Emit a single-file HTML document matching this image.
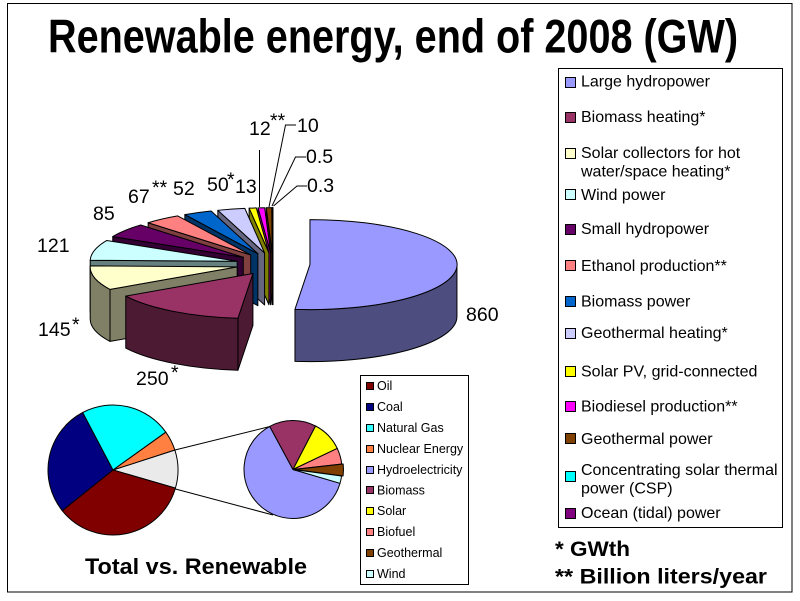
<!DOCTYPE html>
<html><head><meta charset="utf-8">
<style>
html,body{margin:0;padding:0;background:#fff;}
svg{display:block;}
text{font-family:"Liberation Sans",Arial,sans-serif;fill:#000;}
</style></head>
<body>
<svg id="s" width="800" height="601" viewBox="0 0 800 601" xmlns="http://www.w3.org/2000/svg">
<rect x="0" y="0" width="800" height="601" fill="#fff"/>
<rect x="7.5" y="3.5" width="784.5" height="588.5" fill="none" stroke="#000" stroke-width="1"/>

<text x="48" y="52.5" font-size="47.5" font-weight="bold" textLength="690" lengthAdjust="spacingAndGlyphs">Renewable energy, end of 2008 (GW)</text>

<g id="pie3d"></g>

<!-- leader lines -->
<g stroke="#000" stroke-width="1" fill="none">
<polyline points="259.5,150 259.5,207"/>
<polyline points="296,125 285.5,125 269,207"/>
<polyline points="306,157 295.5,157 272,206"/>
<polyline points="307,186 297,186 273.5,206"/>
</g>

<!-- pie labels -->
<g font-size="19.5">
<text x="466" y="321">860</text>
<text x="136" y="385">250</text><text x="171" y="379">*</text>
<text x="38" y="336">145</text><text x="72" y="331">*</text>
<text x="37" y="252">121</text>
<text x="93" y="220">85</text>
<text x="128" y="203">67</text><text x="152" y="194">**</text>
<text x="173" y="195">52</text>
<text x="207" y="191">50</text><text x="227" y="186">*</text>
<text x="235" y="193">13</text>
<text x="249" y="135">12</text><text x="270" y="127">**</text>
<text x="297" y="132">10</text>
<text x="306" y="163">0.5</text>
<text x="307" y="192">0.3</text>
</g>

<!-- main legend -->
<rect x="558.5" y="68.5" width="224" height="459" fill="#fff" stroke="#000" stroke-width="1"/>
<g stroke="#000" stroke-width="1">
<rect x="565.5" y="77.5" width="10" height="10" fill="#9999FF"/>
<rect x="565.5" y="112.5" width="10" height="10" fill="#993366"/>
<rect x="565.5" y="148.5" width="10" height="10" fill="#FFFFCC"/>
<rect x="565.5" y="189.5" width="10" height="10" fill="#CCFFFF"/>
<rect x="565.5" y="224.5" width="10" height="10" fill="#660066"/>
<rect x="565.5" y="260.5" width="10" height="10" fill="#FF8080"/>
<rect x="565.5" y="296.5" width="10" height="10" fill="#0066CC"/>
<rect x="565.5" y="328.5" width="10" height="10" fill="#CCCCFF"/>
<rect x="565.5" y="366.5" width="10" height="10" fill="#FFFF00"/>
<rect x="565.5" y="401.5" width="10" height="10" fill="#FF00FF"/>
<rect x="565.5" y="433.5" width="10" height="10" fill="#804000"/>
<rect x="565.5" y="471.5" width="10" height="10" fill="#00FFFF"/>
<rect x="565.5" y="508.5" width="10" height="10" fill="#800080"/>
</g>
<g font-size="16">
<text x="581" y="86.3">Large hydropower</text>
<text x="581" y="122">Biomass heating*</text>
<text x="581" y="157.8">Solar collectors for hot</text>
<text x="581" y="176.3">water/space heating*</text>
<text x="581" y="199.8">Wind power</text>
<text x="581" y="234">Small hydropower</text>
<text x="581" y="271">Ethanol production**</text>
<text x="581" y="306.5">Biomass power</text>
<text x="581" y="338">Geothermal heating*</text>
<text x="581" y="376.5">Solar PV, grid-connected</text>
<text x="581" y="411.5">Biodiesel production**</text>
<text x="581" y="444">Geothermal power</text>
<text x="581" y="475">Concentrating solar thermal</text>
<text x="581" y="493.5">power (CSP)</text>
<text x="581" y="518">Ocean (tidal) power</text>
</g>

<!-- footnotes -->
<text x="555" y="556" font-size="21" font-weight="bold" textLength="75" lengthAdjust="spacingAndGlyphs">* GWth</text>
<text x="555" y="583.3" font-size="21" font-weight="bold" textLength="212" lengthAdjust="spacingAndGlyphs">** Billion liters/year</text>

<!-- small pies -->
<g id="pie2d"></g>
<g stroke="#000" stroke-width="1" fill="none">
<line x1="175" y1="450" x2="270" y2="426.5"/>
<line x1="175.5" y1="489" x2="273" y2="515"/>
</g>

<text x="85" y="574" font-size="22.5" font-weight="bold" textLength="222" lengthAdjust="spacingAndGlyphs">Total vs. Renewable</text>

<!-- small legend -->
<rect x="360.5" y="375.5" width="108" height="209" fill="#fff" stroke="#000" stroke-width="1"/>
<g stroke="#000" stroke-width="1">
<rect x="366.5" y="382.5" width="7" height="7" fill="#800000"/>
<rect x="366.5" y="403.5" width="7" height="7" fill="#000080"/>
<rect x="366.5" y="424.5" width="7" height="7" fill="#33FFFF"/>
<rect x="366.5" y="445.5" width="7" height="7" fill="#FF8040"/>
<rect x="366.5" y="466.5" width="7" height="7" fill="#9999FF"/>
<rect x="366.5" y="486.5" width="7" height="7" fill="#993366"/>
<rect x="366.5" y="507.5" width="7" height="7" fill="#FFFF00"/>
<rect x="366.5" y="528.5" width="7" height="7" fill="#FF8080"/>
<rect x="366.5" y="549.5" width="7" height="7" fill="#804000"/>
<rect x="366.5" y="570.5" width="7" height="7" fill="#CCFFFF"/>
</g>
<g font-size="12.5">
<text x="377" y="390">Oil</text>
<text x="377" y="411">Coal</text>
<text x="377" y="432">Natural Gas</text>
<text x="377" y="453">Nuclear Energy</text>
<text x="377" y="474">Hydroelectricity</text>
<text x="377" y="494.5">Biomass</text>
<text x="377" y="515">Solar</text>
<text x="377" y="536">Biofuel</text>
<text x="377" y="557">Geothermal</text>
<text x="377" y="578">Wind</text>
</g>
</svg>
<script>
(function(){
const NS="http://www.w3.org/2000/svg";
function el(tag,attrs,parent){const e=document.createElementNS(NS,tag);for(const k in attrs)e.setAttribute(k,attrs[k]);parent.appendChild(e);return e;}
function dark(hex){const n=parseInt(hex.slice(1),16);const r=(n>>16)&255,g=(n>>8)&255,b=n&255;return 'rgb('+Math.round(r*0.5)+','+Math.round(g*0.5)+','+Math.round(b*0.5)+')';}
function f(p){return p[0].toFixed(2)+','+p[1].toFixed(2);}
const R=Math.PI/180;
// 3D pie
const g=document.getElementById('pie3d');
const cx0=273,cy0=264,rx=147,ry=45,D=37,H=52;
const data=[[860,'#9999FF'],[250,'#993366'],[145,'#FFFFCC'],[121,'#CCFFFF'],[85,'#660066'],[67,'#FF8080'],[52,'#0066CC'],[50,'#CCCCFF'],[13,'#FFFF00'],[12,'#FF00FF'],[10,'#804000'],[0.5,'#00FFFF'],[0.3,'#800080']];
const tot=data.reduce((s,x)=>s+x[0],0);
let a=-90;const slices=[];
for(const [v,c] of data){const span=v/tot*360;const b=a+span;const m=(a+b)/2;
 slices.push({a:a,b:b,m:m,cx:cx0+D*Math.cos(m*R),cy:cy0+D*ry/rx*Math.sin(m*R),c:c});a=b;}
slices.sort((p,q)=>Math.sin(p.m*R)-Math.sin(q.m*R));
function P(s,t,dy){return [s.cx+rx*Math.cos(t*R), s.cy+ry*Math.sin(t*R)+(dy||0)];}
const st={stroke:'#000','stroke-width':1,'stroke-linejoin':'round'};
for(const s of slices){
 const dc=dark(s.c);
 const rad=[];
 if(Math.cos(s.a*R)<-1e-3) rad.push(s.a);
 if(Math.cos(s.b*R)>1e-3) rad.push(s.b);
 const C=[s.cx,s.cy];
 for(const t of rad){const p=P(s,t);
  el('path',Object.assign({d:'M'+f(C)+' L'+f(p)+' L'+f([p[0],p[1]+H])+' L'+f([C[0],C[1]+H])+' Z',fill:dc},st),g);}
 const t1=Math.max(s.a,0),t2=Math.min(s.b,180);
 if(t2>t1){const p1=P(s,t1),p2=P(s,t2);const lg=(t2-t1)>180?1:0;
  el('path',Object.assign({d:'M'+f(p1)+' A'+rx+','+ry+' 0 '+lg+' 1 '+f(p2)+' L'+f([p2[0],p2[1]+H])+' A'+rx+','+ry+' 0 '+lg+' 0 '+f([p1[0],p1[1]+H])+' Z',fill:dc},st),g);}
 const pa=P(s,s.a),pb=P(s,s.b);const lg=(s.b-s.a)>180?1:0;
 el('path',Object.assign({d:'M'+f(C)+' L'+f(pa)+' A'+rx+','+ry+' 0 '+lg+' 1 '+f(pb)+' Z',fill:s.c},st),g);
}
// 2D pies
const g2=document.getElementById('pie2d');
function pie(cx,cy,r,segs){
 for(const sg of segs){const a=sg[0],b=sg[1],c=sg[2],off=sg[3]||0;const m=(a+b)/2*R;
  const ox=cx+off*Math.cos(m),oy=cy+off*Math.sin(m);
  const pa=[ox+r*Math.cos(a*R),oy+r*Math.sin(a*R)],pb=[ox+r*Math.cos(b*R),oy+r*Math.sin(b*R)];
  const lg=(b-a)>180?1:0;
  el('path',Object.assign({d:'M'+f([ox,oy])+' L'+f(pa)+' A'+r+','+r+' 0 '+lg+' 1 '+f(pb)+' Z',fill:c},st),g2);}
}
pie(113,470,65,[[342.1,376.2,'#EAEAEA'],[16.2,141.3,'#800000'],[141.3,242.2,'#000080'],[242.2,324.4,'#00FFFF'],[324.4,342.1,'#FF8040']]);
pie(293,469.5,49,[[16.4,241.6,'#9999FF'],[241.6,297.4,'#993366'],[297.4,334.5,'#FFFF00'],[334.5,353.5,'#FF8080'],[353.5,367.6,'#804000',1.5],[367.6,376.4,'#CCFFFF']]);
})();
</script>
</body></html>
